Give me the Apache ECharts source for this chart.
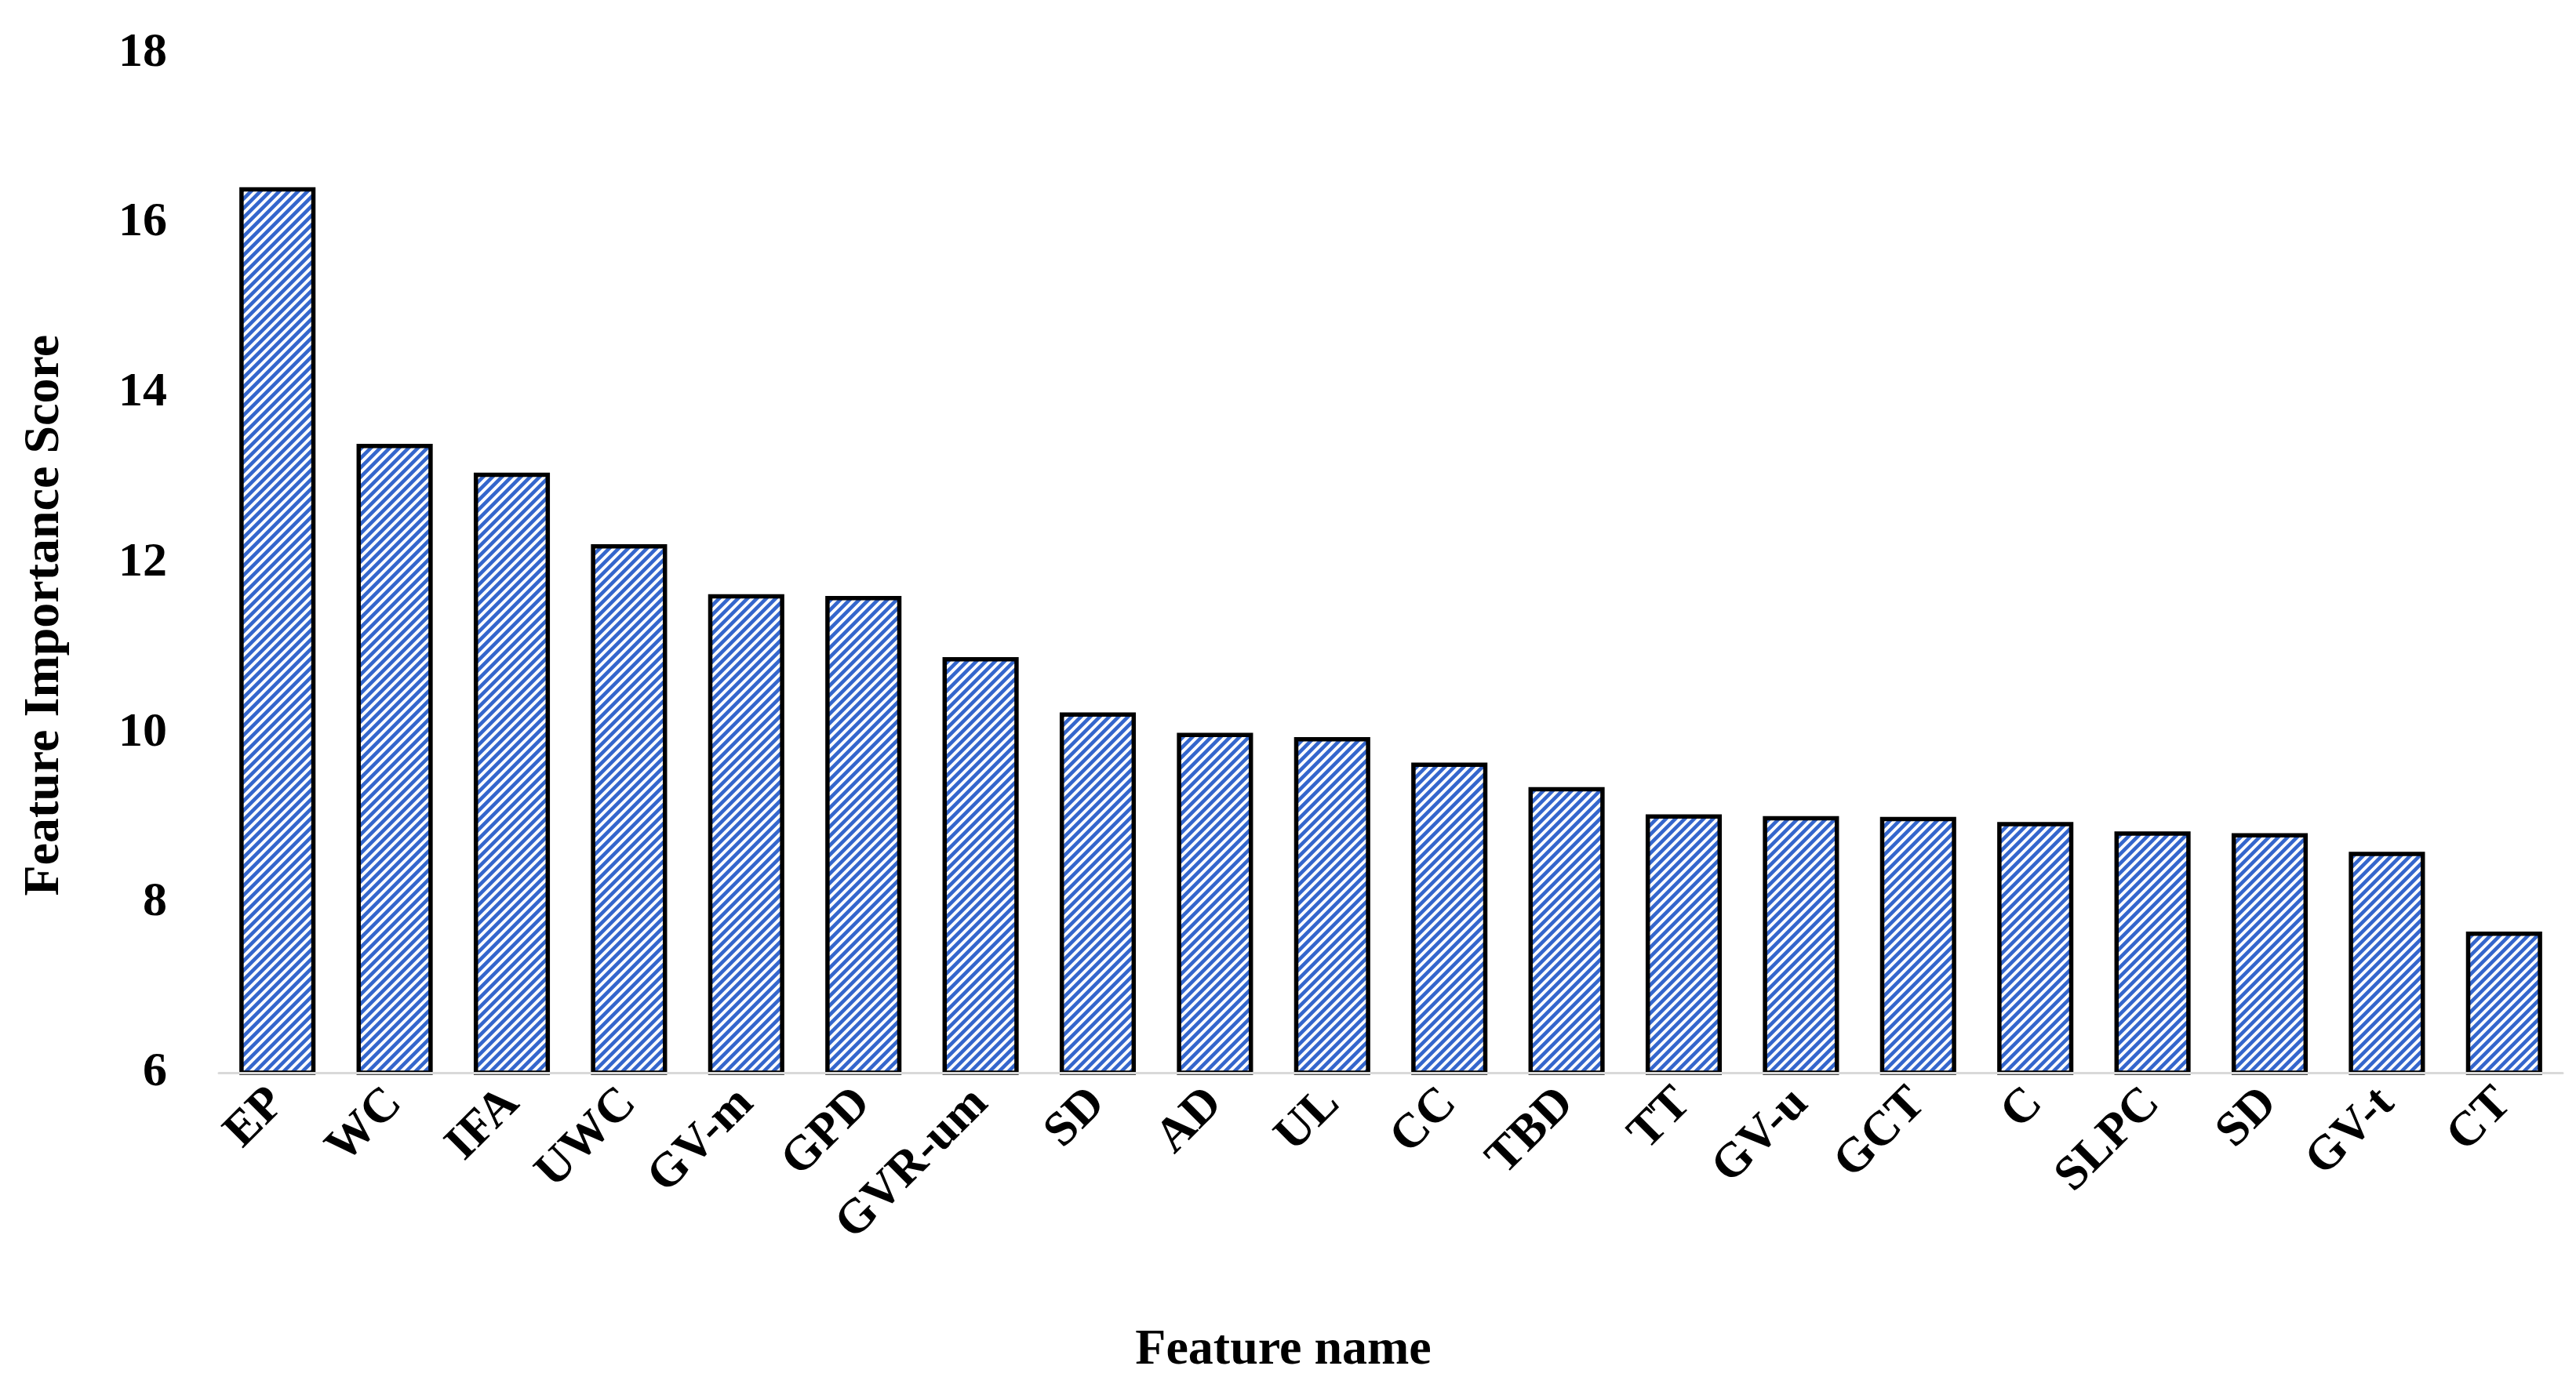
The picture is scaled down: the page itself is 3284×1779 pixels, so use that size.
<!DOCTYPE html>
<html>
<head>
<meta charset="utf-8">
<script src="https://cdn.jsdelivr.net/npm/echarts@6/dist/echarts.min.js"></script>
<style>
html,body{margin:0;padding:0;background:#fff;}
#chart{width:3284px;height:1779px;}
</style>
</head>
<body>
<div id="chart"></div>
<script>
var categories = ['EP','WC','IFA','UWC','GV-m','GPD','GVR-um','SD','AD','UL','CC','TBD','TT','GV-u','GCT','C','SLPC','SD','GV-t','CT'];
var scores = [16.42,13.40,13.06,12.22,11.63,11.61,10.89,10.24,10.00,9.95,9.65,9.36,9.04,9.02,9.01,8.95,8.84,8.82,8.60,7.66];
var yTicks = [6,8,10,12,14,16,18];

// striped pattern tile
var tile = document.createElement('canvas');
var P = 12;
tile.width = P; tile.height = P;
var ctx = tile.getContext('2d');
ctx.fillStyle = '#ffffff';
ctx.fillRect(0,0,P,P);
ctx.strokeStyle = '#3466cc';
ctx.lineWidth = 4.6;
ctx.beginPath();
ctx.moveTo(-P, P); ctx.lineTo(P, -P);
ctx.moveTo(0, 2*P); ctx.lineTo(2*P, 0);
ctx.moveTo(0, P); ctx.lineTo(P, 0);
ctx.stroke();

var font = "'Liberation Serif','Times New Roman',serif";
var chart = echarts.init(document.getElementById('chart'));
chart.setOption({
  backgroundColor: '#ffffff',
  animation: false,
  grid: {left: 279, width: 2988, top: 67.5, height: 1300.5, containLabel: false},
  xAxis: {
    type: 'category',
    data: categories,
    z: 3,
    axisLine: {lineStyle: {color: '#d9d9d9', width: 3}},
    axisTick: {show: false},
    axisLabel: {rotate: 45, margin: 30, interval: 0, color: '#000', fontFamily: font, fontWeight: 'bold', fontSize: 62},
    name: 'Feature name',
    nameLocation: 'middle',
    nameGap: 322,
    nameTextStyle: {color: '#000', fontFamily: font, fontWeight: 'bold', fontSize: 64, padding: [0, 274, 0, 0]}
  },
  yAxis: {
    type: 'value',
    min: yTicks[0],
    max: yTicks[yTicks.length-1],
    interval: 2,
    axisLine: {show: false},
    axisTick: {show: false},
    splitLine: {show: false},
    axisLabel: {margin: 66, color: '#000', fontFamily: font, fontWeight: 'bold', fontSize: 62},
    name: 'Feature Importance Score',
    nameLocation: 'middle',
    nameGap: 190,
    nameTextStyle: {color: '#000', fontFamily: font, fontWeight: 'bold', fontSize: 64, padding: [0, 134, 0, 0]}
  },
  series: [{
    type: 'bar',
    data: scores,
    barWidth: '65%',
    itemStyle: {
      color: {image: tile, repeat: 'repeat'},
      borderColor: '#000',
      borderWidth: 5.5
    }
  }]
});
</script>
</body>
</html>
